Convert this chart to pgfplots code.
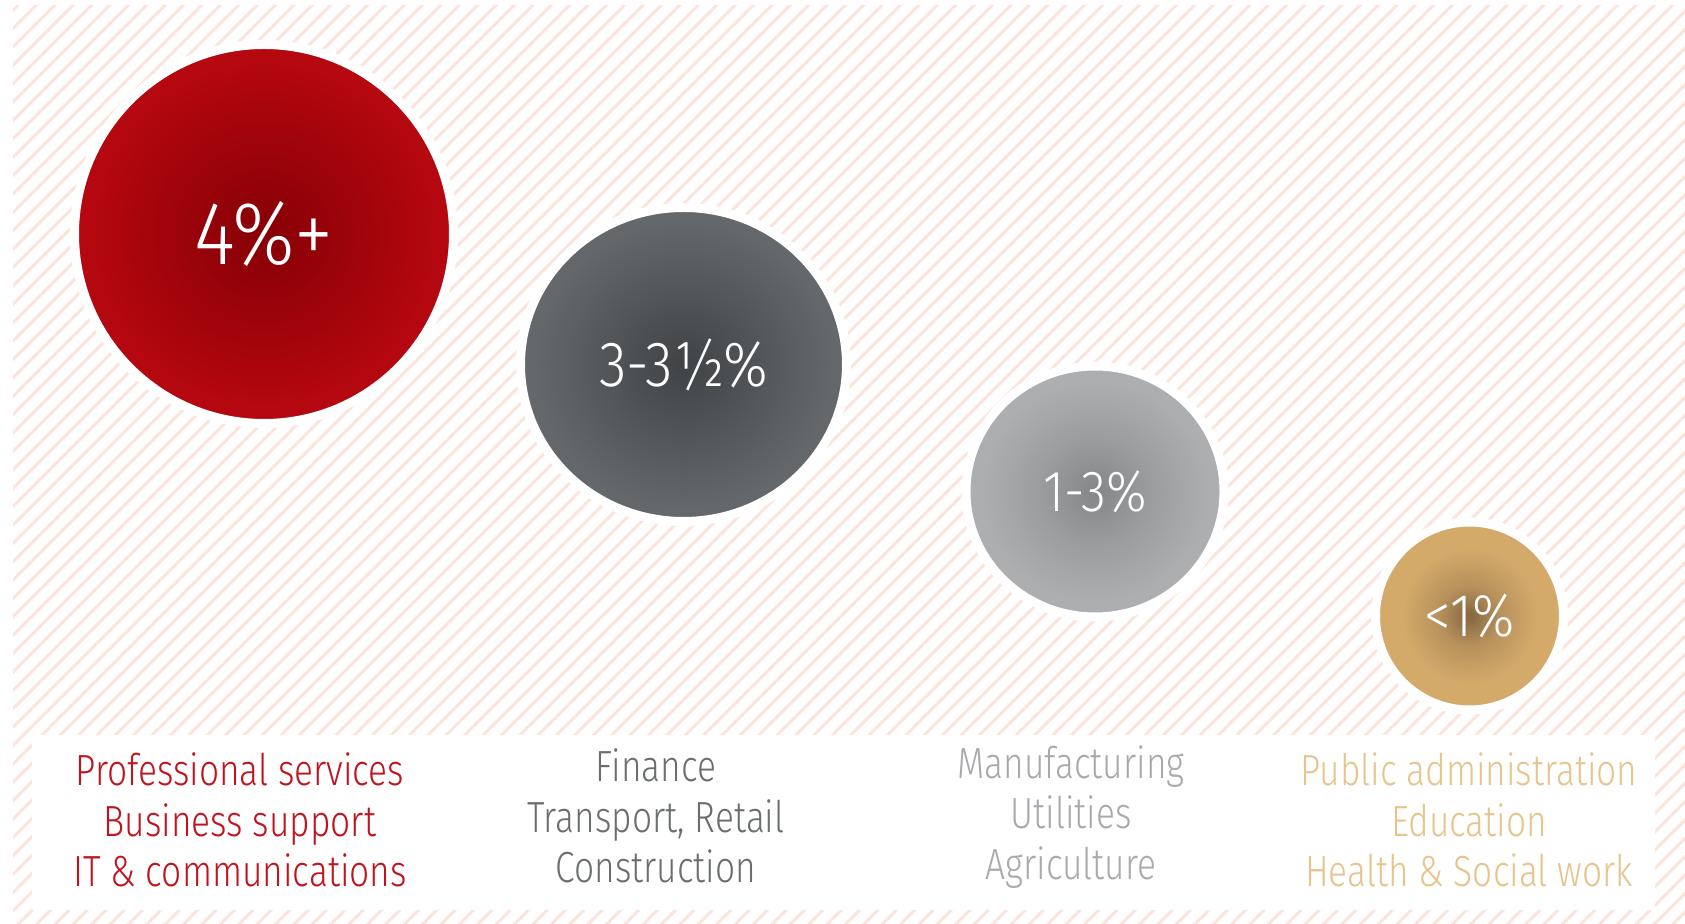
\documentclass[border=0pt]{standalone}
\usepackage{pgfplots}
\pgfplotsset{compat=1.18}
\usetikzlibrary{patterns.meta,shapes.geometric}
\usepackage{fontspec}
\newfontfamily\cf{Fira Sans}[UprightFont={* Light}, FakeStretch=0.81]
\newfontfamily\bubf{Fira Sans}[UprightFont={* Light}, FakeStretch=0.88]

\definecolor{stripe}{HTML}{FCE4DD}
\definecolor{redC}{HTML}{880006}\definecolor{redE}{HTML}{B5070F}
\definecolor{dgC}{HTML}{424548}\definecolor{dgE}{HTML}{65686B}
\definecolor{lgC}{HTML}{87888A}\definecolor{lgE}{HTML}{ADAEB0}
\definecolor{goC}{HTML}{8A6C44}\definecolor{goE}{HTML}{D4AA6B}
\definecolor{redT}{HTML}{C0131D}
\definecolor{dgT}{HTML}{6B6E70}
\definecolor{lgT}{HTML}{A7A9AC}
\definecolor{goT}{HTML}{E6C48C}

% TikZ maps the central 50bp square of a shading onto the path: 25bp = edge
\pgfdeclareradialshading{redshade}{\pgfpoint{0bp}{0bp}}{color(0bp)=(redC); color(1bp)=(redC); color(23bp)=(redE); color(50bp)=(redE)}
\pgfdeclareradialshading{dgshade}{\pgfpoint{0bp}{0bp}}{color(0bp)=(dgC); color(1bp)=(dgC); color(23bp)=(dgE); color(50bp)=(dgE)}
\pgfdeclareradialshading{lgshade}{\pgfpoint{0bp}{0bp}}{color(0bp)=(lgC); color(1bp)=(lgC); color(11bp)=(lgC!45!lgE); color(22bp)=(lgE); color(50bp)=(lgE)}
\pgfdeclareradialshading{goshade}{\pgfpoint{0bp}{0bp}}{color(0bp)=(goC); color(1bp)=(goC); color(8bp)=(goC!40!goE); color(18bp)=(goE); color(50bp)=(goE)}

\tikzset{
  bub/.style n args={4}{ellipse, draw=white, line width=0.9mm,
    minimum width=#1, minimum height=#2, shading=#3, text=white,
    font=\bubf\fontsize{#4}{#4}\selectfont, anchor=center, inner sep=0pt, outer sep=0pt},
  lab/.style={align=center, anchor=center, inner sep=0pt,
    font=\cf\fontsize{12.4}{14.4}\selectfont}
}

\begin{document}
\begin{tikzpicture}
\fill[pattern={Lines[angle=45,distance=1.3mm,line width=0.3mm]}, pattern color=stripe]
  (1.3mm,0) rectangle (168.5mm,91.8mm);
\fill[white] (3.2mm,1.4mm) rectangle (165.5mm,18.9mm);
\begin{axis}[at={(0,0)}, anchor=south west,
  width=168.5mm, height=92.4mm, scale only axis,
  xmin=0, xmax=1685, ymin=0, ymax=924, y dir=reverse,
  hide axis, clip=false]
\addplot[only marks, mark=none, nodes near coords={4\%+},
  every node near coord/.style={bub={37.9mm}{37.9mm}{redshade}{25.5}}]
  coordinates {(264,234)};
\addplot[only marks, mark=none, nodes near coords={3-3½\%},
  every node near coord/.style={bub={32.6mm}{31.4mm}{dgshade}{18.2}}]
  coordinates {(683.5,364.5)};
\addplot[only marks, mark=none, nodes near coords={1-3\%},
  every node near coord/.style={bub={25.8mm}{25.1mm}{lgshade}{16.5}}]
  coordinates {(1095,491.5)};
\addplot[only marks, mark=none, nodes near coords={<1\%},
  every node near coord/.style={bub={18.8mm}{18.8mm}{goshade}{17.2}}]
  coordinates {(1469.5,616)};

\node[lab, text=redT] at (axis cs:240,820) {Professional services\\Business support\\IT \& communications};
\node[lab, text=dgT] at (axis cs:656,816) {Finance\\Transport, Retail\\Construction};
\node[lab, text=lgT] at (axis cs:1071,817) {Manufacturing\\Utilities\\Agriculture};
\node[lab, text=goT] at (axis cs:1469,820) {Public administration\\Education\\Health \& Social work};
\end{axis}
\pgfresetboundingbox
\useasboundingbox (0,0) rectangle (168.5mm,92.4mm);
\end{tikzpicture}
\end{document}
